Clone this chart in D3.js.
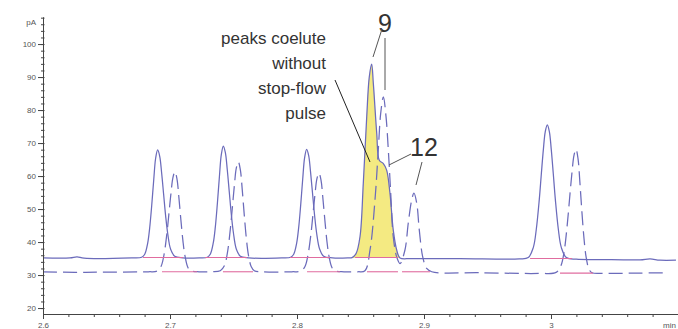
<!doctype html>
<html>
<head>
<meta charset="utf-8">
<script src="https://d3js.org/d3.v7.min.js"></script>
<style>
  body { margin: 0; background: #fff; }
  .axis text { font-family: "Liberation Sans", Arial, sans-serif; font-size: 8px; fill: #555; }
  .axis path, .axis line { stroke: #444; }
  .trace { fill: none; stroke: #6b6bbb; stroke-width: 1.25; }
  .base { stroke: #e06c9f; stroke-width: 1.1; }
  .note { font-family: "Liberation Sans Narrow", "Liberation Sans", Arial, sans-serif; font-size: 17px; fill: #333; }
  .num { font-family: "Liberation Sans", Arial, sans-serif; font-size: 25px; fill: #333; }
</style>
</head>
<body>
<svg width="678" height="329"></svg>
<script>
// x ticks (min), y ticks (pA)
var xMajor = [2.6, 2.7, 2.8, 2.9, 3.0];
var yMajor = [20, 30, 40, 50, 60, 70, 80, 90, 100];

// trace without stop-flow pulse (solid), [time, pA]
var solidTrace = [
  [2.6, 35.2], [2.6213, 35.2], [2.6268, 35.5], [2.6323, 35.1], [2.6700, 35.2],
  [2.6777, 35.4], [2.6801, 36.3], [2.6824, 39.6], [2.6840, 44.3], [2.6856, 51.1], [2.6872, 58.9], [2.6887, 65.4],
  [2.6903, 67.9], [2.6919, 66.0], [2.6934, 61.0], [2.6950, 54.4], [2.6966, 47.8], [2.6982, 42.6], [2.7005, 37.8],
  [2.7037, 35.7], [2.7100, 35.2],
  [2.7230, 35.2], [2.7294, 35.4], [2.7318, 36.4], [2.7341, 39.8], [2.7357, 44.6], [2.7373, 51.7], [2.7389, 59.8], [2.7404, 66.5],
  [2.7420, 69.1], [2.7436, 67.1], [2.7451, 61.9], [2.7467, 55.1], [2.7483, 48.3], [2.7499, 42.9], [2.7522, 37.9],
  [2.7554, 35.7], [2.7620, 35.2],
  [2.7880, 35.2], [2.7950, 35.4], [2.7974, 36.3], [2.7997, 39.6], [2.8013, 44.3], [2.8029, 51.2], [2.8045, 59.1], [2.8060, 65.6],
  [2.8076, 68.1], [2.8092, 66.2], [2.8107, 61.1], [2.8123, 54.5], [2.8139, 47.9], [2.8155, 42.6], [2.8178, 37.9],
  [2.8210, 35.7], [2.8280, 35.2],
  [2.8400, 35.2], [2.8433, 35.3], [2.8465, 36.5], [2.8496, 41.6], [2.8522, 57.8], [2.8549, 78], [2.8569, 90], [2.8588, 93.9],
  [2.8601, 88.1], [2.8628, 72.9], [2.8648, 64.8], [2.8680, 63.8], [2.8706, 61.8], [2.8732, 54.8], [2.8758, 43.6],
  [2.8785, 37.6], [2.8811, 35.2], [2.8900, 35.0], [2.9283, 35.0], [2.9750, 34.9],
  [2.9821, 35.3], [2.9861, 38.4], [2.9884, 43.8], [2.9908, 53.0], [2.9924, 60.7], [2.9940, 68.1], [2.9955, 73.5],
  [2.9971, 75.5], [2.9987, 73.5], [3.0002, 68.1], [3.0018, 60.7], [3.0034, 53.0], [3.0058, 43.8], [3.0081, 38.4],
  [3.0121, 35.3], [3.0200, 34.8],
  [3.0386, 34.7], [3.0701, 34.6], [3.0780, 34.9], [3.0858, 34.5], [3.0984, 34.5]
];

// trace with stop-flow pulse (dashed), [time, pA]
var dashedTrace = [
  [2.6, 31.0], [2.6252, 30.8], [2.6449, 30.9], [2.6830, 31.0],
  [2.6897, 31.2], [2.6929, 32.6], [2.6952, 36.0], [2.6976, 42.7], [2.6992, 48.8], [2.7008, 54.9], [2.7023, 59.5],
  [2.7039, 61.3], [2.7055, 59.1], [2.7070, 53.5], [2.7086, 46.6], [2.7102, 40.3], [2.7118, 35.8], [2.7141, 32.3],
  [2.7165, 31.3], [2.7230, 31.0],
  [2.7330, 31.0], [2.7396, 31.3], [2.7428, 32.8], [2.7451, 36.5], [2.7475, 43.9], [2.7491, 50.5], [2.7507, 57.2], [2.7522, 62.4],
  [2.7538, 64.3], [2.7554, 61.9], [2.7569, 55.8], [2.7585, 48.1], [2.7601, 41.2], [2.7617, 36.2], [2.7640, 32.5],
  [2.7664, 31.3], [2.7730, 31.0],
  [2.7960, 31.0], [2.8031, 31.2], [2.8063, 32.6], [2.8086, 36.0], [2.8110, 42.5], [2.8126, 48.5], [2.8142, 54.6], [2.8157, 59.2],
  [2.8173, 60.9], [2.8189, 58.8], [2.8204, 53.2], [2.8220, 46.4], [2.8236, 40.1], [2.8252, 35.7], [2.8275, 32.3],
  [2.8299, 31.3], [2.8370, 31.0],
  [2.8480, 31.0], [2.8535, 31.3], [2.8575, 37.6], [2.8614, 52.7], [2.8640, 67.9], [2.8659, 79], [2.8680, 84],
  [2.8701, 78], [2.8719, 67.9], [2.8738, 54.8], [2.8758, 41.6], [2.8785, 35.5], [2.8811, 33.5],
  [2.8850, 37.6], [2.8876, 45.7], [2.8903, 52.7], [2.8921, 54.8], [2.8943, 51.7], [2.8963, 43.6], [2.8990, 35.5],
  [2.9021, 32.0], [2.9061, 31.0], [2.9441, 30.7], [2.9913, 30.5],
  [3.0040, 30.8], [3.0079, 32.9], [3.0103, 37.0], [3.0126, 44.5], [3.0150, 54.8], [3.0166, 61.4], [3.0181, 66.3],
  [3.0197, 68.1], [3.0213, 65.2], [3.0228, 57.8], [3.0244, 48.8], [3.0260, 41.0], [3.0276, 35.6], [3.0299, 31.8],
  [3.0323, 30.7], [3.0400, 30.5],
  [3.0701, 30.6], [3.0921, 30.7]
];

// integration baselines [start, end, pA]
var solidBases = [[2.6787, 2.7102, 35.3], [2.7276, 2.7606, 35.3], [2.7945, 2.8260, 35.3], [2.8457, 2.8795, 35.3], [2.9835, 3.0165, 35.0]];
var dashedBases = [[2.6937, 2.7213, 31.0], [2.7417, 2.7654, 31.0], [2.8079, 2.8339, 31.0], [2.8551, 2.8795, 31.0], [2.8827, 2.9047, 31.0], [3.0071, 3.0331, 30.6]];

// shaded coeluting peak
var shadeRange = [2.8433, 2.8811];
var shadeBase = 35.2;

var noteLines = ["peaks coelute", "without", "stop-flow", "pulse"];

var svg = d3.select("svg");

var x = d3.scaleLinear().domain([2.6, 3.1]).range([43, 678]);
var y = d3.scaleLinear().domain([18.2, 108.2]).range([314, 17]);

var curve = d3.curveCatmullRom.alpha(0.5);

// yellow fill
var shade = solidTrace.filter(function(d) { return d[0] >= shadeRange[0] && d[0] <= shadeRange[1]; });
svg.append("path")
  .datum(shade)
  .attr("fill", "#f4ea82")
  .attr("d", d3.area()
    .x(function(d) { return x(d[0]); })
    .y0(y(shadeBase))
    .y1(function(d) { return y(d[1]); })
    .curve(curve));

var line = d3.line()
  .x(function(d) { return x(d[0]); })
  .y(function(d) { return y(d[1]); })
  .curve(curve);

svg.append("path").datum(solidTrace).attr("class", "trace").attr("d", line);
svg.append("path").datum(dashedTrace).attr("class", "trace")
  .attr("stroke-dasharray", "14,6").attr("d", line);

svg.selectAll(".base")
  .data(solidBases.concat(dashedBases))
  .enter().append("line")
  .attr("class", "base")
  .attr("x1", function(d) { return x(d[0]); })
  .attr("x2", function(d) { return x(d[1]); })
  .attr("y1", function(d) { return y(d[2]); })
  .attr("y2", function(d) { return y(d[2]); });

// axes
var xMinor = d3.range(2.62, 3.1, 0.02);
var yMinor = d3.range(20, 109, 2);

svg.append("g").attr("class", "axis")
  .attr("transform", "translate(0,314)")
  .call(d3.axisBottom(x).tickValues(xMinor).tickSize(3).tickSizeOuter(0).tickFormat(""));
svg.append("g").attr("class", "axis")
  .attr("transform", "translate(0,314)")
  .call(d3.axisBottom(x).tickValues(xMajor).tickSize(5).tickSizeOuter(0).tickPadding(3)
    .tickFormat(function(d) { return String(+d.toFixed(1)); }));

var ym = svg.append("g").attr("class", "axis")
  .attr("transform", "translate(43,0)")
  .call(d3.axisLeft(y).tickValues(yMinor).tickSizeOuter(0).tickFormat(""));
ym.selectAll(".tick line").attr("x1", 1.5).attr("x2", -2);
svg.append("g").attr("class", "axis")
  .attr("transform", "translate(43,0)")
  .call(d3.axisLeft(y).tickValues(yMajor).tickSize(5).tickSizeOuter(0).tickPadding(2));

svg.append("text").attr("x", 36).attr("y", 25).attr("text-anchor", "end")
  .style("font-family", "Liberation Sans, Arial, sans-serif").style("font-size", "8px").style("fill", "#555")
  .text("pA");
svg.append("text").attr("x", 676).attr("y", 328).attr("text-anchor", "end")
  .style("font-family", "Liberation Sans, Arial, sans-serif").style("font-size", "8px").style("fill", "#555")
  .text("min");

// annotation
svg.selectAll(".note")
  .data(noteLines)
  .enter().append("text")
  .attr("class", "note")
  .attr("x", 326)
  .attr("y", function(d, i) { return 44 + i * 25; })
  .attr("text-anchor", "end")
  .text(function(d) { return d; });

svg.append("line").attr("x1", 335).attr("y1", 80).attr("x2", 370).attr("y2", 162)
  .attr("stroke", "#222").attr("stroke-width", 1);

// peak labels
svg.append("text").attr("class", "num").attr("x", 385).attr("y", 32).attr("text-anchor", "middle").text("9");
svg.append("text").attr("class", "num").attr("x", 424).attr("y", 156).attr("text-anchor", "middle").text("12");

var leaders = [
  [382, 29, 373, 57], [385, 38, 385, 90],
  [411, 154, 389, 165], [422, 162, 416, 185]
];
svg.selectAll(".leader")
  .data(leaders)
  .enter().append("line")
  .attr("class", "leader")
  .attr("x1", function(d) { return d[0]; })
  .attr("y1", function(d) { return d[1]; })
  .attr("x2", function(d) { return d[2]; })
  .attr("y2", function(d) { return d[3]; })
  .attr("stroke", "#555").attr("stroke-width", 1);
</script>
</body>
</html>
